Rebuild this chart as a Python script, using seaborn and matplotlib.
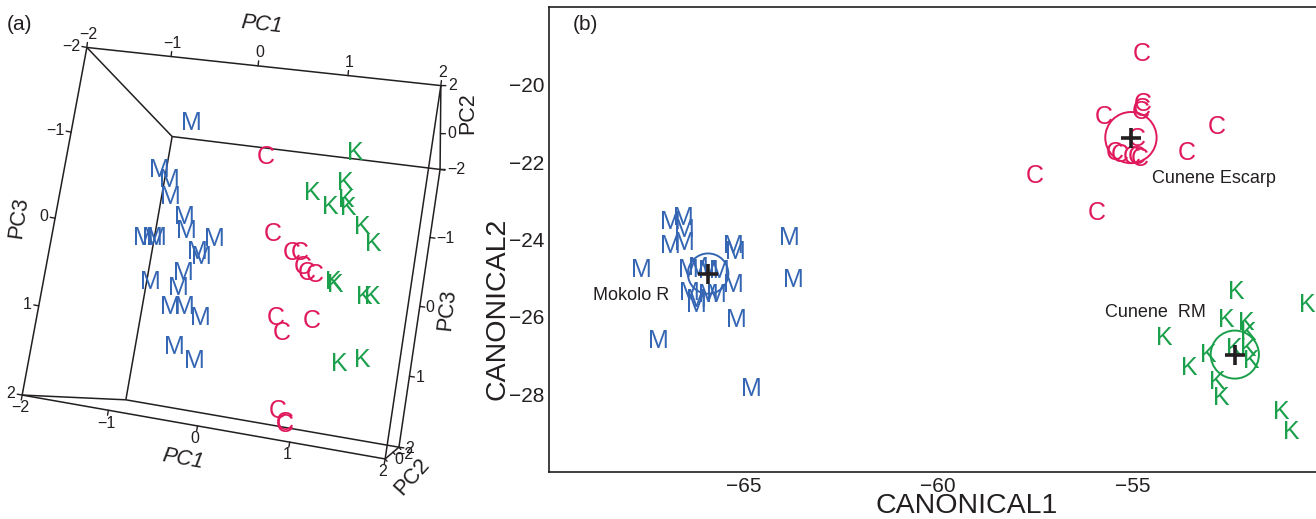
import numpy as np
import pandas as pd
import matplotlib
matplotlib.use("Agg")
import matplotlib.pyplot as plt
from matplotlib.patches import Circle
import seaborn as sns

# ---------------- panel (b): canonical scores ----------------
b_M_x = [-66.89, -66.55, -66.51, -66.89, -66.51, -65.27, -65.22, -63.81, -67.62, -66.42, -66.16, -65.91,
         -65.61, -65.27, -63.72, -66.38, -66.21, -65.91, -65.69, -66.21, -65.18, -67.19, -64.81]
b_M_y = [-23.54, -23.45, -23.75, -24.18, -24.10, -24.18, -24.31, -23.97, -24.78, -24.78, -24.74, -24.82,
         -24.82, -25.17, -25.04, -25.38, -25.55, -25.42, -25.42, -25.68, -26.07, -26.62, -27.87]
b_C_x = [-54.75, -54.73, -54.77, -54.79, -55.74, -52.84, -54.90, -53.61, -55.45, -55.33, -55.03, -54.90,
         -54.81, -57.51, -55.93]
b_C_y = [-19.21, -20.50, -20.62, -20.71, -20.84, -21.10, -21.40, -21.78, -21.78, -21.83, -21.87, -21.87,
         -21.91, -22.37, -23.32]
b_K_x = [-52.34, -50.51, -52.58, -52.07, -52.03, -54.17, -52.39, -52.03, -53.05, -51.94, -53.53, -52.81,
         -52.71, -51.17, -50.93]
b_K_y = [-25.36, -25.68, -26.07, -26.15, -26.41, -26.55, -26.82, -26.82, -26.97, -27.14, -27.31, -27.69,
         -28.08, -28.45, -28.96]

cent_group = ['M', 'C', 'K']
cent_x = [-65.91, -55.04, -52.37]
cent_y = [-24.88, -21.37, -26.97]
cent_r = [0.52, 0.66, 0.62]
group_names = ['Mokolo R', 'Cunene Escarp', 'Cunene  RM']
name_x = [-68.86, -54.51, -55.71]
name_y = [-25.44, -22.42, -25.88]

x_ticks = [-67.5, -65, -62.5, -60, -57.5, -55, -52.5]
y_ticks = [-28, -26, -24, -22, -20]

# ---------------- panel (a): principal component scores (PC2 taken as 0) ----------------
a_M_pc1 = [-1.19, -1.5, -1.35, -1.3, -1.07, -1.01, -1.56, -1.44, -1.38, -0.63, -0.82, -0.75, -1.37, -0.95,
           -0.99, -1.05, -0.86, -0.63, -0.9, -0.62]
a_M_pc3 = [-1.76, -1.08, -0.97, -0.75, -0.51, -0.33, -0.16, -0.18, -0.19, -0.28, -0.08, -0.03, 0.39, 0.21,
           0.41, 0.67, 0.64, 0.75, 1.16, 1.3]
a_C_pc1 = [-0.14, 0.11, 0.39, 0.49, 0.56, 0.62, 0.72, 0.32, 0.42, 0.78, 0.53, 0.64, 0.64]
a_C_pc3 = [-1.43, -0.45, -0.24, -0.26, -0.09, -0.02, -0.01, 0.6, 0.78, 0.57, 1.74, 1.88, 1.9]
a_K_pc1 = [0.99, 0.52, 0.92, 0.78, 0.97, 1.0, 1.22, 1.38, 0.96, 0.99, 1.37, 1.47, 1.19, 1.46]
a_K_pc3 = [-1.62, -1.04, -1.22, -0.89, -1.01, -0.91, -0.69, -0.5, 0.05, 0.08, 0.18, 0.16, 1.05, 0.95]
a_pc2 = 0.0
pc_ticks = [-2, -1, 0, 1, 2]
pc2_ticks = [-2, 0, 2]

COL = {'M': '#3566b4', 'C': '#e0195c', 'K': '#1a9f4b'}
INK = '#231f20'
LETTER_SIZE = 18

sns.set_theme(style="white")
plt.rcParams['font.family'] = ['Liberation Sans', 'DejaVu Sans']
plt.rcParams['axes.unicode_minus'] = True

def fmt(v):
    return f"{v:g}".replace('-', '\u2212')

fig = plt.figure(figsize=(13.16, 5.19), dpi=100)

# ======================= panel (b) =======================
axb = fig.add_axes([549/1316, 1-472/519, 1-549/1316, 465/519])
axb.set_xlim(-70, -70 + 767/38.9)
axb.set_ylim(-30, -18)
for g, xs, ys in (('M', b_M_x, b_M_y), ('C', b_C_x, b_C_y), ('K', b_K_x, b_K_y)):
    for x, y in zip(xs, ys):
        axb.text(x, y, g, color=COL[g], fontsize=LETTER_SIZE, ha='center', va='center')
for g, cx, cy, r in zip(cent_group, cent_x, cent_y, cent_r):
    axb.add_patch(Circle((cx, cy), r, fill=False, ec=COL[g], lw=1.4))
cent_df = pd.DataFrame({'x': cent_x, 'y': cent_y})
sns.scatterplot(data=cent_df, x='x', y='y', marker='+', s=190, color=INK, linewidth=2.6, ax=axb,
                legend=False, zorder=5)
for name, x, y in zip(group_names, name_x, name_y):
    axb.text(x, y, name, fontsize=13, color=INK, ha='left', va='center')
axb.set_xticks(x_ticks)
axb.set_xticklabels([fmt(v) if v % 5 == 0 else '' for v in x_ticks])
axb.set_yticks(y_ticks)
axb.set_yticklabels([fmt(v) for v in y_ticks])
axb.tick_params(direction='in', length=7.5, width=1.1, color=INK, labelsize=15, labelcolor=INK)
axb.tick_params(axis='x', pad=3.5)
axb.tick_params(axis='y', pad=3.5)
for side in ('left', 'top', 'bottom'):
    axb.spines[side].set_color(INK)
    axb.spines[side].set_linewidth(1.2)
axb.spines['right'].set_visible(False)
axb.set_xlabel('CANONICAL1', fontsize=20.5, color=INK)
axb.set_ylabel('CANONICAL2', fontsize=20.5, color=INK)
axb.xaxis.set_label_coords(0.545, -0.045)
axb.yaxis.set_label_coords(-0.05, 0.35)
axb.set_facecolor('none')
fig.text(585/1316, 1-25/519, '(b)', fontsize=15, ha='center', va='center', color=INK)

# ======================= panel (a) =======================
axa = fig.add_axes([0, 0, 470/1316, 1])
axa.set_xlim(0, 470)
axa.set_ylim(519, 0)
axa.axis('off')

# perspective camera fitted to the box corners (layout, in panel pixels)
corner_pc = np.array([[-2,2,-2],[2,2,-2],[2,2,2],[-2,2,2],[-2,-2,-2],[2,-2,-2],[2,-2,2],[-2,-2,2]], float)
corner_px = np.array([[87,48],[441,85],[385,459],[22,395],[172,136],[440,170],[399,447],[126,400]], float)
mu = corner_px.mean(0); sc = corner_px.std()
nrm = (corner_px - mu) / sc
rows = []
for (X, Y, Z), (u, v) in zip(corner_pc, nrm):
    rows.append([X, Y, Z, 1, 0, 0, 0, 0, -u*X, -u*Y, -u*Z, -u])
    rows.append([0, 0, 0, 0, X, Y, Z, 1, -v*X, -v*Y, -v*Z, -v])
_, _, vt = np.linalg.svd(np.array(rows))
P = np.array([[sc, 0, mu[0]], [0, sc, mu[1]], [0, 0, 1]]) @ vt[-1].reshape(3, 4)

def proj(X, Y, Z):
    X, Y, Z = np.broadcast_arrays(np.atleast_1d(np.asarray(X, float)), np.atleast_1d(np.asarray(Y, float)),
                                  np.atleast_1d(np.asarray(Z, float)))
    h = P @ np.vstack([X.ravel(), Y.ravel(), Z.ravel(), np.ones(X.size)])
    return h[0]/h[2], h[1]/h[2]

# box edges
for i in range(8):
    for j in range(i+1, 8):
        if np.sum(corner_pc[i] != corner_pc[j]) == 1:
            t = np.linspace(0, 1, 30)
            pts = corner_pc[i][None, :] + t[:, None]*(corner_pc[j]-corner_pc[i])[None, :]
            ex, ey = proj(pts[:,0], pts[:,1], pts[:,2])
            axa.plot(ex, ey, color=INK, lw=1.1, solid_capstyle='butt')

def axis_ticks(fixed, var, values, side, tick_len, lab_off, ha, va, show=None):
    def pt(v):
        c = [0.0, 0.0, 0.0]
        for k, val in fixed.items():
            c[k] = val
        c[var] = v
        x, y = proj(*c)
        return np.array([x[0], y[0]])
    a, b = pt(-2), pt(2)
    d = (b - a) / np.linalg.norm(b - a)
    n = np.array([d[1], -d[0]]) * side
    for v in values:
        p = pt(v)
        q = p + n*tick_len
        axa.plot([p[0], q[0]], [p[1], q[1]], color=INK, lw=1.0)
        if show is None or v in show:
            l = p + n*lab_off
            axa.text(l[0], l[1], fmt(v), fontsize=11.5, color=INK, ha=ha, va=va)

# PC1 top / bottom, PC3 left / right, PC2 top-right / bottom-right
axis_ticks({1: 2, 2: -2}, 0, pc_ticks, 1, 5, 13, 'center', 'center')
axis_ticks({1: 2, 2: 2}, 0, pc_ticks, -1, 5, 13, 'center', 'center')
axis_ticks({0: -2, 1: 2}, 2, pc_ticks, -1, 5, 7, 'right', 'center')
axis_ticks({0: 2, 1: -2}, 2, pc_ticks, 1, 5, 6, 'left', 'center', show=[-1, 0, 1, 2])
axis_ticks({0: 2, 2: -2}, 1, pc2_ticks, -1, 5, 7, 'left', 'center')
axis_ticks({0: 2, 2: 2}, 1, pc2_ticks, 1, 3, 9, 'center', 'center', show=[-2, 0])

for g, p1, p3 in (('M', a_M_pc1, a_M_pc3), ('C', a_C_pc1, a_C_pc3), ('K', a_K_pc1, a_K_pc3)):
    sx, sy = proj(p1, a_pc2, p3)
    for x, y in zip(sx, sy):
        axa.text(x, y, g, color=COL[g], fontsize=LETTER_SIZE, ha='center', va='center')

axa.text(262, 25, 'PC1', fontsize=15.5, style='italic', rotation=-6, ha='center', va='center', color=INK)
axa.text(183, 459, 'PC1', fontsize=15.5, style='italic', rotation=-10, ha='center', va='center', color=INK)
axa.text(19, 218, 'PC3', fontsize=15.5, rotation=82, ha='center', va='center', color=INK)
axa.text(447, 310, 'PC3', fontsize=15.5, rotation=84, ha='center', va='center', color=INK)
axa.text(468, 113, 'PC2', fontsize=15.5, rotation=90, ha='center', va='center', color=INK)
axa.text(412, 477, 'PC2', fontsize=15.5, rotation=48, ha='center', va='center', color=INK)
axa.text(20, 25, '(a)', fontsize=15, ha='center', va='center', color=INK)

fig.savefig('out.png', dpi=100)
